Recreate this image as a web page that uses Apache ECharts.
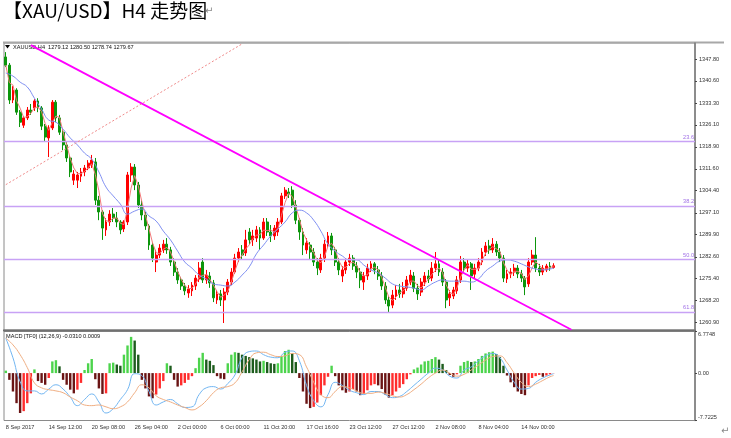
<!DOCTYPE html>
<html><head><meta charset="utf-8">
<script src="https://cdn.jsdelivr.net/npm/echarts@6/dist/echarts.min.js"></script>
<style>html,body{margin:0;padding:0;background:#fff;}#c{width:731px;height:438px;}</style>
</head><body><div id="c"></div>
<script>
const tickLabels = ['8 Sep 2017','14 Sep 12:00','20 Sep 08:00','26 Sep 04:00','2 Oct 00:00','6 Oct 00:00','11 Oct 20:00','17 Oct 16:00','23 Oct 12:00','27 Oct 12:00','2 Nov 08:00','8 Nov 04:00','14 Nov 00:00'];
const priceTicks = [1260.90,1268.20,1275.40,1282.60,1289.90,1297.10,1304.40,1311.60,1318.90,1326.10,1333.30,1340.60,1347.80];
const macdTicks = [-7.7225, 0, 6.7748];

const opens = [1348.5,1345.8,1334.3,1337.6,1330.3,1326.0,1328.4,1331.0,1331.7,1334.0,1331.7,1325.7,1321.8,1325.1,1333.6,1328.4,1323.7,1319.5,1315.2,1307.9,
1307.9,1309.2,1310.6,1311.9,1312.9,1313.9,1301.3,1297.4,1291.5,1294.1,1296.7,1295.4,1294.1,1291.8,1294.1,1309.6,1312.2,1306.3,1299.7,1296.4,
1292.8,1286.5,1280.9,1283.2,1284.9,1286.8,1284.9,1280.9,1277.6,1275.0,1273.0,1270.7,1271.4,1273.0,1275.3,1280.9,1275.0,1276.3,1274.0,1268.4,
1270.4,1268.4,1271.0,1274.3,1277.6,1282.2,1284.9,1283.9,1290.8,1288.2,1288.8,1291.5,1288.8,1294.1,1290.8,1289.5,1290.8,1294.1,1302.7,1304.0,
1304.6,1299.7,1294.7,1290.8,1284.9,1286.5,1284.2,1280.9,1278.3,1282.2,1286.8,1289.5,1284.9,1280.9,1276.3,1278.3,1280.9,1282.2,1279.6,1277.6,
1274.3,1276.3,1278.9,1280.3,1278.3,1276.3,1273.0,1268.4,1266.7,1269.7,1271.7,1270.4,1272.3,1274.3,1276.3,1272.3,1271.0,1274.3,1276.3,1275.6,
1278.9,1280.3,1277.6,1274.3,1269.1,1269.7,1271.4,1275.0,1280.9,1278.9,1280.3,1276.9,1278.9,1280.9,1284.2,1286.2,1284.9,1286.8,1284.2,1282.2,
1275.3,1277.0,1277.6,1278.9,1277.0,1275.6,1273.7,1280.9,1283.2,1278.9,1277.6,1278.3,1279.6,1279.12];
const closes = [1345.8,1334.3,1337.6,1330.3,1327.0,1328.4,1331.0,1330.3,1334.0,1331.7,1325.7,1322.1,1325.1,1333.6,1328.4,1323.7,1319.5,1315.2,1310.6,1309.9,
1309.6,1310.6,1311.9,1313.5,1314.5,1301.3,1297.4,1292.1,1294.1,1296.7,1295.4,1294.1,1291.5,1294.1,1309.6,1312.2,1306.3,1299.7,1296.4,1292.8,
1286.5,1282.2,1283.2,1285.5,1286.8,1284.9,1280.9,1277.6,1275.0,1273.0,1271.4,1272.0,1273.3,1275.6,1278.9,1275.0,1276.6,1274.0,1269.1,1270.4,
1268.4,1271.0,1274.3,1277.6,1282.2,1284.2,1283.2,1288.2,1288.2,1289.5,1291.5,1288.8,1294.1,1290.8,1289.5,1292.1,1294.1,1302.7,1304.6,1303.3,
1299.7,1294.7,1290.8,1286.5,1287.2,1284.2,1280.9,1278.9,1282.2,1286.8,1289.5,1284.9,1280.9,1278.3,1278.3,1280.9,1282.2,1279.6,1277.6,1275.0,
1276.3,1278.9,1280.3,1278.3,1276.3,1273.0,1268.4,1266.4,1270.0,1271.7,1270.4,1272.3,1275.0,1276.6,1272.3,1270.4,1274.3,1276.3,1275.3,1278.9,
1280.3,1277.6,1274.3,1268.4,1270.4,1271.7,1275.0,1280.9,1278.9,1280.3,1276.3,1278.9,1280.9,1284.2,1286.2,1284.9,1286.8,1284.2,1282.2,1275.6,
1277.0,1277.6,1278.9,1277.0,1275.6,1272.7,1280.9,1283.2,1278.9,1277.6,1278.9,1279.6,1278.9,1279.67];
const highs = [1350.1,1346.5,1338.9,1338.2,1331.0,1329.0,1332.0,1333.0,1334.6,1334.9,1332.3,1326.4,1326.0,1334.3,1334.3,1329.4,1324.4,1320.4,1315.8,1311.2,
1310.6,1311.9,1312.9,1314.5,1316.2,1315.2,1302.7,1298.0,1295.4,1298.0,1298.7,1297.4,1294.7,1294.7,1310.6,1313.5,1313.2,1307.3,1301.3,1297.4,
1293.4,1287.2,1284.9,1286.8,1288.2,1288.8,1285.9,1282.2,1278.9,1276.0,1274.0,1273.3,1274.3,1276.6,1280.9,1282.2,1278.3,1277.6,1275.0,1271.7,
1271.7,1272.3,1275.3,1278.9,1283.6,1285.5,1286.5,1291.5,1292.1,1291.5,1292.8,1292.4,1295.4,1295.4,1293.1,1293.1,1295.4,1303.7,1305.6,1305.3,
1305.9,1301.3,1295.4,1292.1,1288.8,1287.5,1285.5,1282.2,1283.6,1288.2,1290.8,1290.5,1285.9,1282.2,1279.6,1282.2,1283.6,1283.2,1280.9,1278.9,
1277.6,1280.3,1281.2,1280.9,1279.6,1277.6,1274.3,1269.7,1271.7,1273.3,1273.7,1274.3,1276.3,1278.3,1277.6,1273.7,1275.6,1277.6,1278.3,1280.9,
1284.2,1281.6,1278.9,1275.3,1271.7,1272.7,1276.3,1282.9,1282.2,1281.6,1280.9,1280.3,1282.2,1285.5,1287.5,1288.2,1288.8,1287.8,1285.5,1283.2,
1278.3,1278.9,1280.3,1279.9,1278.3,1276.3,1282.2,1284.9,1289.1,1280.3,1279.9,1280.3,1280.9,1280.50];
const lows = [1345.2,1333.0,1333.3,1329.4,1325.4,1325.1,1327.7,1329.4,1330.7,1330.3,1324.4,1320.8,1315.5,1324.4,1327.0,1322.8,1317.8,1313.9,1308.9,1306.3,
1305.3,1307.3,1309.2,1311.2,1311.9,1299.7,1294.7,1288.2,1289.5,1292.8,1294.1,1292.4,1290.1,1290.8,1293.1,1307.3,1304.6,1298.7,1294.7,1291.5,
1284.9,1280.9,1277.6,1282.2,1283.9,1283.6,1279.6,1276.3,1273.7,1271.7,1270.0,1269.1,1269.7,1271.7,1274.3,1274.0,1273.7,1272.4,1267.7,1267.1,
1266.4,1260.8,1270.0,1273.3,1277.0,1280.9,1281.9,1282.9,1286.8,1286.2,1287.5,1284.9,1288.2,1289.5,1287.5,1288.2,1289.5,1293.4,1301.7,1302.0,
1298.7,1293.4,1288.2,1283.2,1283.6,1281.6,1279.6,1276.6,1277.3,1280.9,1285.5,1283.2,1279.6,1276.6,1274.3,1277.0,1279.6,1278.3,1275.6,1272.3,
1271.7,1275.0,1277.6,1276.9,1275.0,1271.7,1267.1,1264.1,1265.7,1268.4,1269.1,1269.1,1271.4,1273.3,1271.0,1268.4,1269.7,1273.0,1274.0,1274.6,
1277.6,1276.3,1273.0,1265.7,1266.4,1268.7,1270.4,1274.0,1277.6,1277.6,1271.7,1275.6,1277.9,1279.9,1282.9,1283.6,1283.9,1282.9,1280.9,1274.3,
1274.0,1275.6,1276.3,1275.6,1274.3,1270.0,1272.7,1279.9,1277.6,1276.3,1276.6,1277.6,1278.0,1278.74];

const slowMA = [[0,1343.2],[2,1342.2],[4,1340.2],[6,1338.6],[8,1334.9],[10,1331.3],[12,1327.7],[14,1327.0],[16,1324.7],[18,1321.8],[20,1319.5],[22,1316.8],[24,1314.8],[26,1310.6],[28,1305.6],[30,1302.7],[32,1300.0],[34,1296.7],[36,1297.7],[38,1298.4],[40,1296.1],[42,1294.4],[44,1291.1],[46,1288.2],[48,1284.5],[50,1280.9],[52,1278.9],[54,1276.6],[56,1275.3],[58,1273.7],[60,1273.3],[62,1273.0],[64,1274.3],[66,1276.6],[68,1279.3],[70,1283.6],[72,1286.5],[74,1289.5],[76,1291.8],[78,1294.1],[80,1297.1],[82,1298.0],[84,1297.1],[86,1294.7],[88,1291.1],[90,1286.8],[92,1284.5],[94,1282.9],[96,1281.6],[98,1281.6],[100,1279.9],[102,1278.3],[104,1277.3],[106,1275.6],[108,1273.7],[110,1273.0],[112,1272.7],[114,1272.3],[116,1271.7],[118,1273.0],[120,1274.3],[122,1275.0],[124,1274.6],[126,1274.6],[128,1274.6],[130,1274.3],[132,1275.3],[134,1277.9],[136,1279.6],[138,1281.2],[140,1281.6],[142,1281.2],[144,1280.3],[146,1279.3],[148,1278.6],[150,1278.3],[152,1278.6],[153,1278.9]];

const macdHist = [0.4,-1.1,-3.0,-4.9,-6.5,-6.2,-4.9,-3.3,0.6,-1.3,-1.6,-1.9,-0.8,1.9,2.1,1.1,-1.1,-1.9,-2.7,-3.3,
-2.7,-1.6,0.5,1.6,2.3,-1.0,-2.5,-3.4,-3.3,1.6,1.7,1.4,1.2,3.0,4.5,5.9,5.3,3.0,-1.1,-2.5,
-3.8,-4.1,-3.5,-2.5,-1.3,1.6,1.2,-1.1,-2.2,-2.0,-1.6,-1.1,-0.5,0.8,2.5,3.3,2.2,2.0,1.3,-0.5,
-0.9,-1.0,1.6,3.0,3.4,3.3,3.0,2.8,2.6,2.4,2.2,1.9,2.0,1.8,1.6,1.5,1.6,2.8,3.6,3.8,
3.2,1.8,-0.8,-3.0,-5.0,-5.7,-5.5,-4.8,-3.6,-2.0,-0.6,1.2,-0.5,-2.0,-2.8,-3.2,-3.0,-2.6,-3.0,-3.6,
-3.4,-2.8,-2.0,-1.8,-2.0,-2.6,-3.5,-4.0,-3.6,-3.0,-2.4,-1.8,-1.0,-0.2,0.6,0.9,1.4,1.9,2.0,2.3,
2.6,2.2,1.5,0.5,-0.3,-0.6,-0.2,1.2,1.8,2.0,1.8,1.9,2.3,2.8,3.2,3.4,3.5,3.1,2.6,1.2,
-0.4,-1.5,-2.3,-3.0,-3.4,-3.6,-2.0,-0.8,-0.5,-0.3,-0.6,-0.4,-0.2,-0.03];
const macdBlue = [[0,5.7],[2,2.5],[4,-1.4],[6,-2.9],[8,-2.9],[10,-3.4],[12,-2.6],[14,-1.9],[16,-2.6],[18,-3.9],[20,-5.3],[22,-4.3],[24,-3.4],[26,-4.7],[28,-6.5],[30,-5.8],[32,-4.3],[34,-2.7],[36,-0.1],[38,-0.4],[40,-3.0],[42,-5.2],[44,-4.7],[46,-4.3],[48,-5.0],[50,-5.6],[52,-5.5],[54,-3.5],[56,-2.4],[58,-2.2],[60,-2.6],[62,-1.7],[64,-0.3],[66,2.5],[68,3.5],[70,3.6],[72,3.0],[74,2.6],[76,2.5],[78,3.4],[80,3.6],[82,2.0],[84,-2.0],[86,-4.5],[88,-5.5],[90,-3.5],[92,-1.5],[94,-2.0],[96,-2.8],[98,-3.2],[100,-3.5],[102,-3.0],[104,-3.0],[106,-3.5],[108,-4.0],[110,-3.8],[112,-3.0],[114,-2.0],[116,-1.0],[118,0.0],[120,0.8],[122,0.5],[124,-0.5],[126,-0.8],[128,0.5],[130,1.0],[132,2.0],[134,2.8],[136,3.2],[138,2.5],[140,0.5],[142,-1.5],[144,-2.6],[146,-2.5],[148,-1.5],[150,-0.8],[152,-0.3],[153,-0.1]];
const macdOrange = [[0,5.7],[2,4.6],[4,3.0],[6,0.9],[8,-1.6],[10,-2.4],[12,-2.7],[14,-2.9],[16,-3.2],[18,-3.9],[20,-4.5],[22,-5.2],[24,-5.3],[26,-5.2],[28,-5.5],[30,-5.8],[32,-5.5],[34,-4.7],[36,-3.2],[38,-1.9],[40,-2.4],[42,-3.7],[44,-4.3],[46,-4.7],[48,-5.2],[50,-5.6],[52,-6.0],[54,-5.5],[56,-4.5],[58,-3.2],[60,-2.4],[62,-2.2],[64,-1.6],[66,0.2],[68,2.2],[70,3.3],[72,3.4],[74,3.0],[76,2.7],[78,2.8],[80,3.2],[82,3.0],[84,1.0],[86,-1.5],[88,-3.5],[90,-4.0],[92,-3.0],[94,-2.2],[96,-2.4],[98,-2.9],[100,-3.3],[102,-3.3],[104,-3.1],[106,-3.3],[108,-3.7],[110,-3.9],[112,-3.5],[114,-2.7],[116,-1.8],[118,-0.8],[120,0.0],[122,0.5],[124,0.0],[126,-0.5],[128,-0.2],[130,0.5],[132,1.3],[134,2.1],[136,2.7],[138,2.8],[140,1.7],[142,0.0],[144,-1.5],[146,-2.2],[148,-1.8],[150,-1.2],[152,-0.6],[153,-0.4]];

const fibLevels = ['23.6','38.2','50.0','61.8'];
const fibPrices = [1320.8, 1299.4, 1281.9, 1264.5];
const trendDown = [[7,1352.4],[158,1258.6]];
const trendUp = [[0,1306.4],[66,1352.8]];
const headerText = 'XAUUSD,H4  1279.12 1280.50 1278.74 1279.67';
const macdText = 'MACD [TF0] (12,26,9) -0.0310 0.0009';

const slotCount = 193;
const categories = Array.from({length: slotCount}, (_, i) => String(i));
const candles = opens.map((o, i) => [o, closes[i], lows[i], highs[i]]);
const fastMA = closes.map((c, i) => {
  const s = closes.slice(Math.max(0, i - 2), i + 1);
  return +(s.reduce((a, b) => a + b, 0) / s.length).toFixed(2);
});
const histData = macdHist.map((v, i) => {
  const prev = i > 0 ? macdHist[i - 1] : v;
  let color;
  if (v >= 0) color = v >= prev ? '#4cd44c' : '#1d5c1d';
  else color = v <= prev ? '#6a1414' : '#ff2c2c';
  return {value: v, itemStyle: {color}};
});
const lastClose = closes[closes.length - 1];
const small = 5.6;
const fontFam = '"Liberation Sans", Arial, sans-serif';

const markData = [];
fibLevels.forEach((lv, k) => {
  markData.push({yAxis: fibPrices[k], lineStyle: {color: '#c8a2f5', width: 1.3, type: 'solid'},
    label: {show: true, position: 'insideEndTop', formatter: lv, color: '#a070e6', fontSize: small, fontFamily: fontFam, distance: 1}});
});
markData.push([
  {coord: trendDown[0], lineStyle: {color: '#ff00ff', width: 1.8, type: 'solid'}, label: {show: false}},
  {coord: trendDown[1]}
]);
markData.push([
  {coord: trendUp[0], lineStyle: {color: '#f08a8a', width: 1, type: [2, 2]}, label: {show: false}},
  {coord: trendUp[1]}
]);
markData.push({yAxis: lastClose, lineStyle: {opacity: 0},
  label: {show: true, position: 'end', formatter: lastClose.toFixed(2), backgroundColor: '#000', color: '#fff',
    fontSize: small, fontFamily: fontFam, padding: [1, 2, 1, 2], distance: 2}});

const chart = echarts.init(document.getElementById('c'), null, {renderer: 'canvas'});
chart.setOption({
  animation: false,
  backgroundColor: '#fff',
  grid: [
    {left: 4, top: 43, width: 691, height: 287, show: true, borderColor: '#8a8a8a', borderWidth: 1},
    {left: 4, top: 331.5, width: 691, height: 89, show: true, borderColor: '#8a8a8a', borderWidth: 1}
  ],
  xAxis: [
    {type: 'category', gridIndex: 0, data: categories, boundaryGap: true,
      axisLine: {show: false}, axisTick: {show: false}, axisLabel: {show: false}, splitLine: {show: false}},
    {type: 'category', gridIndex: 1, data: categories, boundaryGap: true,
      axisLine: {show: false}, axisTick: {show: false}, splitLine: {show: false},
      axisLabel: {show: true, interval: 0, align: 'left', margin: 4, fontSize: small, fontFamily: fontFam, color: '#333',
        formatter: (val, idx) => (idx % 12 === 0 && tickLabels[idx / 12]) ? tickLabels[idx / 12] : ''}}
  ],
  yAxis: [
    {type: 'value', gridIndex: 0, position: 'right', min: 1258.5, max: 1353.1, scale: true,
      splitLine: {show: false},
      axisLine: {show: true, lineStyle: {color: '#7a7a7a', width: 1.5}},
      axisTick: {show: true, customValues: priceTicks, length: 2, lineStyle: {color: '#444'}},
      axisLabel: {show: true, customValues: priceTicks, margin: 4, fontSize: small, fontFamily: fontFam, color: '#333',
        formatter: v => v.toFixed(2)}},
    {type: 'value', gridIndex: 1, position: 'right', min: -7.7225, max: 6.7748,
      splitLine: {show: false},
      axisLine: {show: true, lineStyle: {color: '#7a7a7a', width: 1.5}},
      axisTick: {show: true, customValues: macdTicks, length: 2, lineStyle: {color: '#444'}},
      axisLabel: {show: true, customValues: macdTicks, margin: 3, fontSize: small, fontFamily: fontFam, color: '#333',
        verticalAlignMaxLabel: 'top', verticalAlignMinLabel: 'bottom',
        formatter: v => v === 0 ? '0.00' : String(v)}}
  ],
  series: [
    {type: 'candlestick', xAxisIndex: 0, yAxisIndex: 0, data: candles, barWidth: 2.4, z: 3,
      itemStyle: {color: '#ff0000', color0: '#0c960c', borderColor: '#ff0000', borderColor0: '#0c960c', borderWidth: 1},
      markLine: {symbol: ['none', 'none'], silent: true, animation: false, data: markData}},
    {type: 'line', xAxisIndex: 0, yAxisIndex: 0, data: fastMA, symbol: 'none', z: 4,
      lineStyle: {color: '#f27a7a', width: 1}},
    {type: 'line', xAxisIndex: 0, yAxisIndex: 0, data: slowMA, symbol: 'none', smooth: true, z: 4,
      lineStyle: {color: '#7f8ff2', width: 1}},
    {type: 'bar', xAxisIndex: 1, yAxisIndex: 1, data: histData, barWidth: 2.4, z: 2},
    {type: 'line', xAxisIndex: 1, yAxisIndex: 1, data: macdBlue, symbol: 'none', smooth: true, z: 4,
      lineStyle: {color: '#72b6f2', width: 1}},
    {type: 'line', xAxisIndex: 1, yAxisIndex: 1, data: macdOrange, symbol: 'none', smooth: true, z: 4,
      lineStyle: {color: '#f0ae82', width: 1}}
  ],
  graphic: [
    {type: 'text', left: 3, top: 1, style: {text: '【XAU/USD】H4 走势图', font: '19px "Noto Sans CJK SC"', fill: '#000'}},
    {type: 'text', left: 205, top: 6, style: {text: '↵', font: '10px "DejaVu Sans"', fill: '#888'}},
    {type: 'text', left: 721, top: 426, style: {text: '↵', font: '10px "DejaVu Sans"', fill: '#888'}},
    {type: 'line', shape: {x1: 3, y1: 42.5, x2: 724, y2: 42.5}, style: {stroke: '#a8a8a8', lineWidth: 2}},
    {type: 'line', shape: {x1: 3, y1: 330.5, x2: 696, y2: 330.5}, style: {stroke: '#707070', lineWidth: 2}},
    {type: 'polygon', shape: {points: [[5, 45], [10, 45], [7.5, 48.5]]}, style: {fill: '#000'}},
    {type: 'text', left: 13, top: 44, style: {text: headerText, font: small + 'px ' + fontFam, fill: '#111'}},
    {type: 'text', left: 6, top: 333, style: {text: macdText, font: small + 'px ' + fontFam, fill: '#111'}}
  ]
});
</script>
</body></html>
